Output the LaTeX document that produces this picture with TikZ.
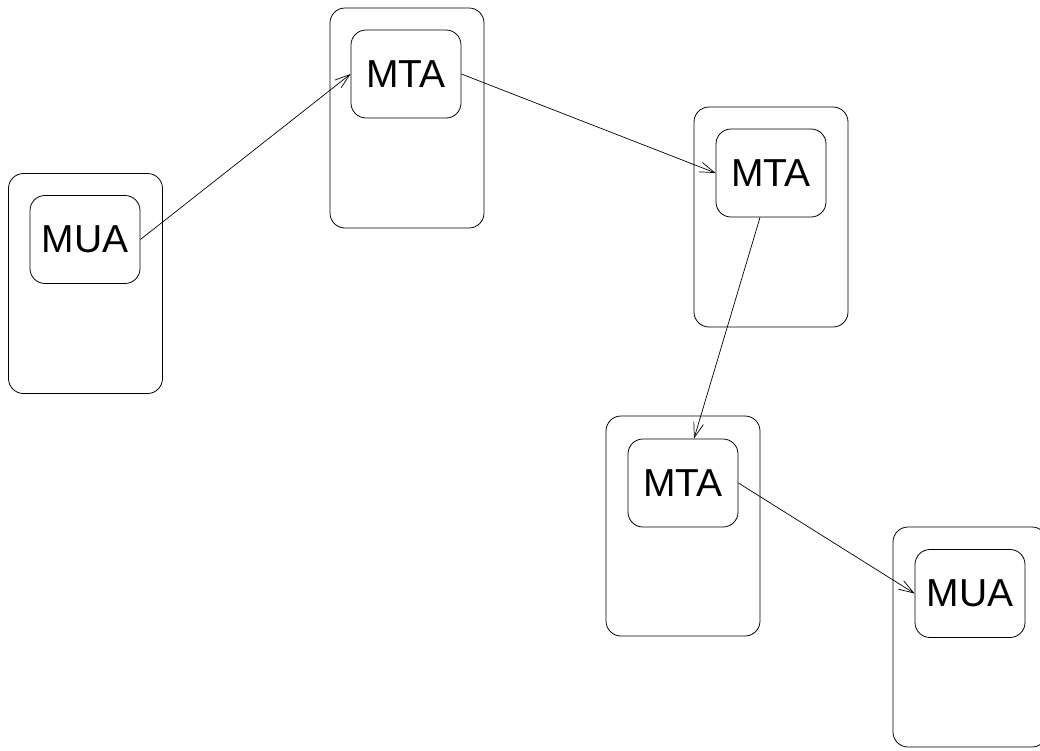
\documentclass[tikz,border=0pt]{standalone}
\usepackage{fontspec}
\setmainfont{Liberation Sans}
\usetikzlibrary{arrows.meta}
\begin{document}
\begin{tikzpicture}[x=1pt,y=-1pt,
  hostbox/.style={draw,line width=0.8pt,rounded corners=15pt,minimum width=154pt,minimum height=220pt,inner sep=0pt},
  agent/.style={draw,line width=0.8pt,rounded corners=15pt,minimum width=110pt,minimum height=88pt,inner sep=0pt,font=\fontsize{39}{39}\selectfont},
  link/.style={line width=0.7pt,-{Straight Barb[length=15pt,width=10pt,line width=0.7pt]}}]
\useasboundingbox (0,0) rectangle (1040,750);
\node[hostbox] (h1) at (85.5,283.5) {};
\node[hostbox] (h2) at (407,118) {};
\node[hostbox] (h3) at (771,217) {};
\node[hostbox] (h4) at (683,526) {};
\node[hostbox] (h5) at (970,637) {};
\node[agent] (mua1) at (85,239.5) {MUA};
\node[agent] (mta1) at (406,74) {MTA};
\node[agent] (mta2) at (771,173) {MTA};
\node[agent] (mta3) at (683,483) {MTA};
\node[agent] (mua2) at (970,593.5) {MUA};
\draw[link] (mua1.east) -- (mta1.west);
\draw[link] (mta1.east) -- (mta2.west);
\draw[link] ([xshift=-11pt]mta2.south) -- ([xshift=11pt]mta3.north);
\draw[link] (mta3.east) -- (mua2.west);
\end{tikzpicture}
\end{document}
